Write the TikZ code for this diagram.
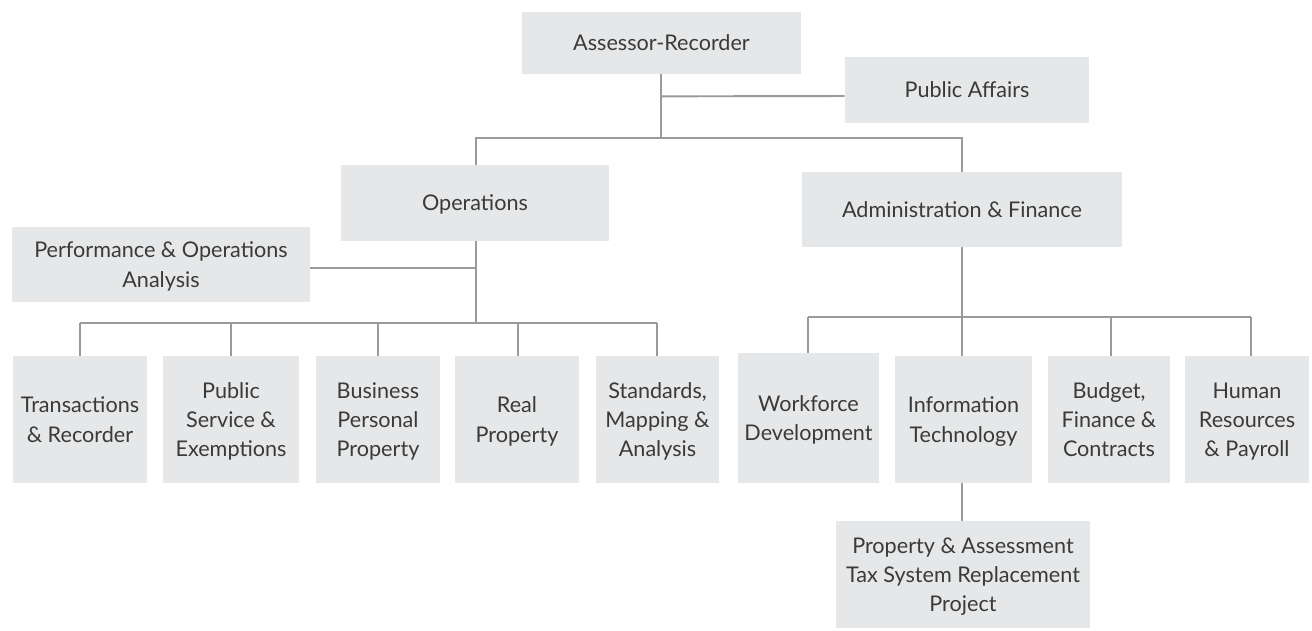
\documentclass[tikz,border=0pt]{standalone}
\usepackage{fontspec}
\setmainfont{Lato}
\usetikzlibrary{positioning, calc}
\definecolor{boxgray}{HTML}{E6E7E8}
\definecolor{linegray}{HTML}{9A9A9A}
\definecolor{txtgray}{HTML}{3A3A3A}

\begin{document}
\begin{tikzpicture}[x=0.02cm, y=-0.02cm,
    unit/.style={fill=boxgray, text=txtgray, align=center, inner sep=0pt, text depth=0pt,
                 font=\fontsize{12.3}{16.6}\selectfont},
    link/.style={draw=linegray, line width=1.1pt}]
                \useasboundingbox (0,0) rectangle (1312,630);
                % Top level
                \node[unit, minimum width=5.58cm, minimum height=1.24cm] (assessor) at (661.5,43) {Assessor-Recorder};
                \node[unit, minimum width=4.88cm, minimum height=1.32cm] (affairs) at (967,90) {Public Affairs};
                % Divisions
                \node[unit, minimum width=5.36cm, minimum height=1.52cm] (ops) at (475,203) {Operations};
                \node[unit, minimum width=6.40cm, minimum height=1.50cm] (admin) at (962,209.5) {Administration \& Finance};
                \node[unit, minimum width=5.96cm, minimum height=1.50cm] (perf) at (161,264.5) {Performance \& Operations\\Analysis};
                % Operations units
                \node[unit, minimum width=2.70cm, minimum height=2.54cm] (trans) at (80,419.5) {Transactions\\\& Recorder};
                \node[unit, minimum width=2.72cm, minimum height=2.54cm] (pubserv) at (231,419.5) {Public\\Service \&\\Exemptions};
                \node[unit, minimum width=2.48cm, minimum height=2.54cm] (bpp) at (378,419.5) {Business\\Personal\\Property};
                \node[unit, minimum width=2.48cm, minimum height=2.54cm] (real) at (517,419.5) {Real\\Property};
                \node[unit, minimum width=2.46cm, minimum height=2.54cm] (stds) at (657.5,419.5) {Standards,\\Mapping \&\\Analysis};
                % Administration units
                \node[unit, minimum width=2.84cm, minimum height=2.60cm] (work) at (808.5,418) {Workforce\\Development};
                \node[unit, minimum width=2.74cm, minimum height=2.54cm] (it) at (963.5,419.5) {Information\\Technology};
                \node[unit, minimum width=2.44cm, minimum height=2.54cm] (budget) at (1109,419.5) {Budget,\\Finance \&\\Contracts};
                \node[unit, minimum width=2.48cm, minimum height=2.54cm] (hr) at (1247,419.5) {Human\\Resources\\\& Payroll};
                \node[unit, minimum width=5.08cm, minimum height=2.14cm] (pats) at (963,574.5) {Property \& Assessment\\Tax System Replacement\\Project};
                % Connectors
                \coordinate (topbus) at (661,138);
                \draw[link] (assessor.south -| topbus) -- (topbus);
                \draw[link] (assessor.south -| topbus) ++(0,22) -- (affairs.west |- 0,96);
                \draw[link] (ops.north -| 476,0) |- (topbus) -| (admin.north -| 962,0);
                \draw[link] (ops.south -| 476,0) -- (476,323);
                \draw[link] (perf.east |- 0,268) -- (476,268);
                \draw[link] (80,323) -- (657,323);
                \foreach \u/\x in {trans/80, pubserv/231, bpp/378, real/518, stds/657}
                    \draw[link] (\x,323) -- (\u.north -| \x,0);
                \draw[link] (admin.south -| 962,0) -- (962,317);
                \draw[link] (808,317) -- (1251,317);
                \foreach \u/\x in {work/808, it/962, budget/1111, hr/1251}
                    \draw[link] (\x,317) -- (\u.north -| \x,0);
                \draw[link] (it.south -| 962,0) -- (pats.north -| 962,0);
            \end{tikzpicture}
\end{document}
